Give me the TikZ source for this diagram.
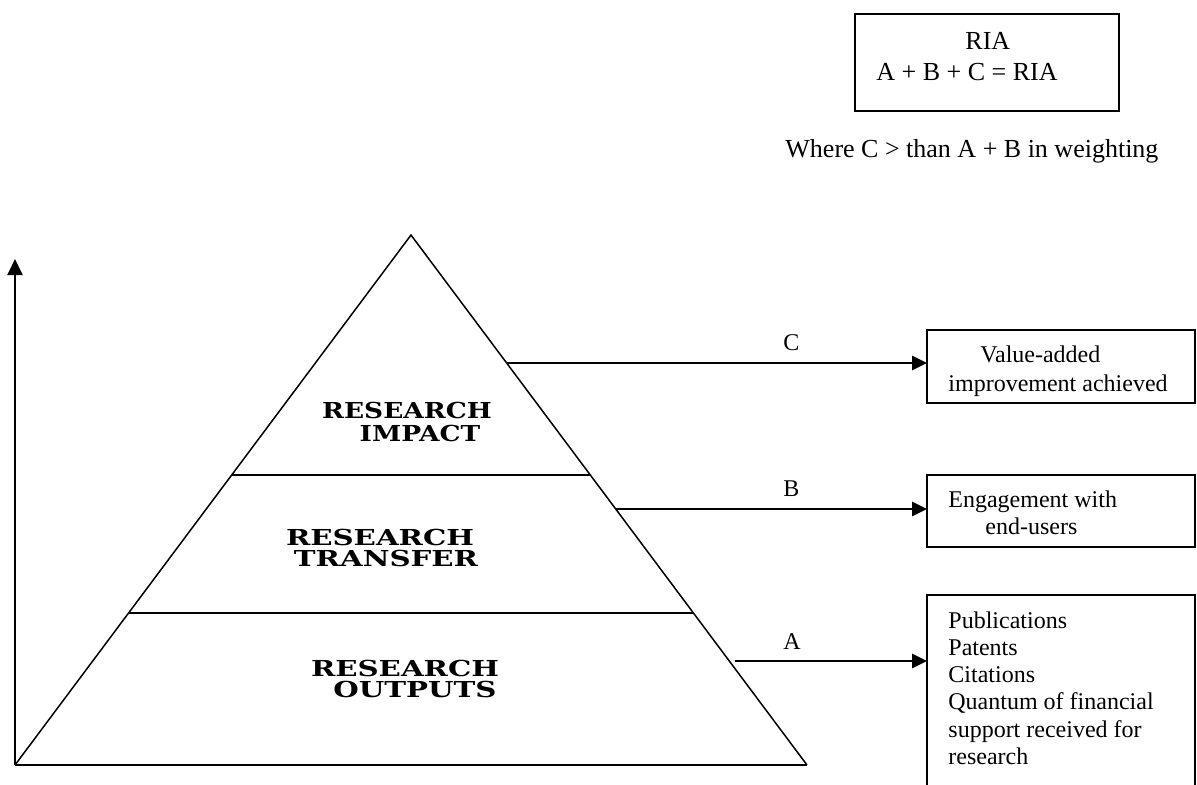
\documentclass[tikz,border=0pt]{standalone}
\usepackage{fontspec}
\setmainfont{Liberation Serif}
\newfontfamily\pyrfont{DejaVu Serif}
\usetikzlibrary{arrows.meta,calc}
\begin{document}
\begin{tikzpicture}[x=0.5pt,y=-0.5pt,
  boxtxt/.style={anchor=base west,inner sep=0pt,font=\fontsize{12}{14}\selectfont},
  toptxt/.style={anchor=base west,inner sep=0pt,font=\fontsize{13}{15}\selectfont},
  pyrtxt/.style={inner sep=0pt,font=\pyrfont\fontsize{11}{12}\selectfont\bfseries},
  frame/.style={draw,line width=1pt,inner sep=0pt,outer sep=0pt,anchor=north west},
  axisline/.style={line width=1pt},
  pyrline/.style={line width=0.75pt},
  flow/.style={line width=1.4pt,-{Triangle[length=7.5pt,width=7pt]}},
]
\clip (0,0) rectangle (1197,784);
% top formula box
\node[frame,minimum width=132pt,minimum height=48.5pt] (ria) at (855,14) {};
\node[toptxt] (riat) at (965,49) {RIA};
\node[toptxt] (riaf) at (876,80) {A + B + C = RIA};
\node[toptxt] (where) at (785,157) {Where C > than A + B in weighting};
% axes and pyramid
\coordinate (O) at (15,765);
\coordinate (ytop) at (15,259);
\coordinate (apex) at (411,235);
\coordinate (R) at (807,765);
\draw[axisline,-{Triangle[length=8pt,width=7.5pt]}] (O) -- (ytop);
\draw[axisline] (O) -- (R);
\draw[pyrline,line join=miter] (O) -- (apex) -- (R);
\draw[pyrline] ($(O)!0.5472!(apex)$) -- ($(R)!0.5472!(apex)$);
\draw[pyrline] ($(O)!0.2868!(apex)$) -- ($(R)!0.2868!(apex)$);
% pyramid labels
\node[pyrtxt] (imp1) at (407,410) {\scalebox{1.2}[1]{RESEARCH}};
\node[pyrtxt] (imp2) at (420,433) {\scalebox{1.2}[1]{IMPACT}};
\node[pyrtxt] (tra1) at (380,537) {\scalebox{1.33}[1]{RESEARCH}};
\node[pyrtxt] (tra2) at (386,558) {\scalebox{1.33}[1]{TRANSFER}};
\node[pyrtxt] (out1) at (405,668) {\scalebox{1.33}[1]{RESEARCH}};
\node[pyrtxt] (out2) at (415,689) {\scalebox{1.33}[1]{OUTPUTS}};
% result boxes
\node[frame,minimum width=134pt,minimum height=36.5pt] (boxC) at (927,330) {};
\node[frame,minimum width=134pt,minimum height=36pt] (boxB) at (927,475) {};
\node[frame,minimum width=134pt,minimum height=125pt] (boxA) at (927,595) {};
\node[boxtxt] (c1) at (980,362) {Value-added};
\node[boxtxt] (c2) at (948,391) {improvement achieved};
\node[boxtxt] (b1) at (948,507) {Engagement with};
\node[boxtxt] (b2) at (985,534) {end-users};
\node[boxtxt] (a1) at (948,628) {Publications};
\node[boxtxt] (a2) at (948,655) {Patents};
\node[boxtxt] (a3) at (948,682) {Citations};
\node[boxtxt] (a4) at (948,709) {Quantum of financial};
\node[boxtxt] (a5) at (948,737) {support received for};
\node[boxtxt] (a6) at (948,764) {research};
% arrows
\coordinate (cs) at (507,363);
\coordinate (bs) at (616,509);
\coordinate (as) at (735,661);
\draw[flow] (cs) -- (cs -| boxC.west);
\draw[flow] (bs) -- (bs -| boxB.west);
\draw[flow] (as) -- (as -| boxA.west);
\node[boxtxt] (lc) at (783,350) {C};
\node[boxtxt] (lb) at (783,496) {B};
\node[boxtxt] (la) at (783,649) {A};
\end{tikzpicture}
\end{document}
